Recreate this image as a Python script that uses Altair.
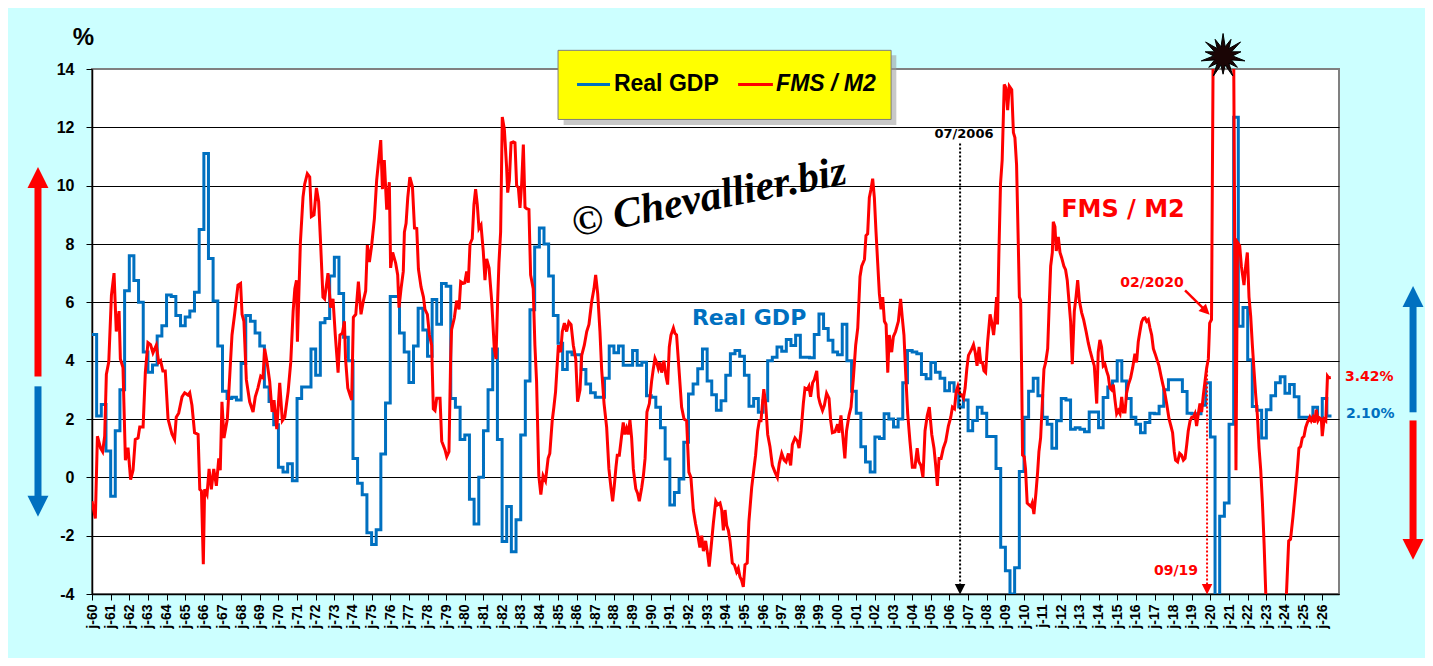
import math

import altair as alt
import pandas as pd

BG = "#ccffff"
BLUE = "#0070c0"
RED = "#ff0000"
TAHOMA = "DejaVu Sans"
ARIAL = "Liberation Sans"

# Real GDP, y/y %, one value per quarter from 1960 Q1 (last entry closes the step)
GDP = [
    4.9, 2.1, 2.5, 0.9,  # 1960
    -0.65, 1.6, 3.0, 6.4,
    7.6, 6.75, 6.0, 4.3,
    3.6, 3.85, 4.85, 5.2,
    6.25, 6.2, 5.55, 5.2,
    5.5, 5.7, 6.35, 8.5,
    11.1, 7.5, 6.05, 4.5,
    2.95, 2.7, 2.75, 2.65,
    3.9, 5.55, 5.35, 4.95,
    4.5, 3.1, 2.6, 1.8,
    0.35, 0.18, 0.47, -0.12,  # 1970
    2.7, 3.1, 3.1, 4.4,
    3.5, 5.3, 5.45, 6.9,
    7.55, 6.3, 4.8, 4.0,
    0.65, -0.2, -0.6, -1.9,
    -2.3, -1.8, 0.8, 2.55,
    6.2, 6.2, 4.95, 4.3,
    3.25, 4.5, 5.8, 5.05,
    4.15, 6.1, 5.25, 6.65,
    6.55, 2.7, 2.4, 1.3,
    1.45, -0.75, -1.6, 0.0,  # 1980
    1.6, 3.0, 4.4, 1.3,
    -2.2, -1.0, -2.55, -1.45,
    1.45, 3.3, 5.75, 7.9,
    8.55, 8.0, 6.9, 5.55,
    4.6, 3.7, 4.3, 4.2,
    4.2, 3.7, 3.2, 2.9,
    2.75, 2.75, 3.4, 4.5,
    4.27, 4.5, 3.84, 3.84,
    4.35, 3.84, 3.95, 2.8,
    2.75, 2.4, 1.7, 0.63,  # 1990
    -0.95, -0.52, -0.06, 1.2,
    2.86, 3.2, 3.72, 4.4,
    3.3, 2.83, 2.3, 2.63,
    3.5, 4.24, 4.35, 4.15,
    3.5, 2.44, 2.7, 2.23,
    2.63, 4.0, 4.12, 4.47,
    4.32, 4.73, 4.52, 4.87,
    4.12, 4.12, 4.1, 4.9,
    5.6, 5.1, 4.7, 4.3,
    4.2, 5.25, 4.0, 2.95,  # 2000
    2.2, 1.05, 0.53, 0.18,
    1.38, 1.33, 2.18, 2.0,
    1.73, 2.0, 3.24, 4.35,
    4.3, 4.24, 3.53, 3.38,
    3.94, 3.6, 3.4, 2.97,
    3.24, 2.95, 2.41, 2.65,
    1.6, 1.95, 2.4, 2.2,
    1.4, 1.4, 0.3, -2.4,
    -3.2, -4.0, -3.1, 0.2,
    2.06, 2.95, 3.4, 2.8,  # 2010
    2.06, 1.82, 1.0, 1.94,
    2.7, 2.65, 1.65, 1.7,
    1.65, 1.56, 2.24, 2.24,
    1.7, 2.74, 3.1, 3.3,
    4.0, 3.3, 2.7, 2.06,
    1.82, 1.53, 1.88, 2.2,
    2.18, 2.44, 3.0, 3.35,
    3.35, 3.35, 2.94, 2.2,
    2.18, 2.18, 2.47, 3.24,
    1.38, -7.5, -1.33, -0.88,  # 2020
    1.82, 12.35, 5.18, 5.82,
    4.03, 2.43, 2.3, 1.35,
    2.32, 2.8, 3.24, 3.45,
    2.88, 3.18, 2.76, 2.06,
    2.06, 2.06, 2.4, 2.0,
    2.7, 2.1, 2.1,
]

# FMS / M2, y/y % as (decimal year, value)
FMS = [
    (1960.00, -0.82), (1960.18, -1.41), (1960.29, 1.41), (1960.46, 1.0), (1960.57, 0.88),
    (1960.68, 1.41), (1960.77, 3.53), (1960.90, 3.96), (1961.04, 6.24), (1961.18, 7.0),
    (1961.30, 5.0), (1961.45, 5.7), (1961.52, 4.06), (1961.66, 3.76), (1961.79, 0.59),
    (1961.93, 1.02), (1962.07, -0.08), (1962.20, 0.24), (1962.32, 1.3), (1962.47, 1.35),
    (1962.56, 1.73), (1962.74, 1.73), (1962.86, 3.6), (1963.00, 4.62), (1963.14, 4.55),
    (1963.27, 4.27), (1963.45, 4.53), (1963.58, 3.94), (1963.68, 4.0), (1963.80, 3.65),
    (1963.93, 3.65), (1964.08, 2.0), (1964.29, 1.49), (1964.43, 1.3), (1964.52, 2.06),
    (1964.65, 2.2), (1964.83, 2.76), (1964.97, 2.9), (1965.15, 2.82), (1965.24, 2.9),
    (1965.36, 2.47), (1965.50, 1.53), (1965.69, 1.47), (1965.78, -0.41), (1965.87, -0.47),
    (1965.97, -2.98), (1966.04, -0.41), (1966.17, -0.59), (1966.28, 0.29), (1966.40, -0.41),
    (1966.53, 0.29), (1966.67, -0.29), (1966.80, 0.65), (1966.88, 0.24), (1966.97, 2.59),
    (1967.08, 1.35), (1967.26, 2.0), (1967.51, 4.88), (1967.65, 5.59), (1967.83, 6.59),
    (1967.97, 6.65), (1968.05, 5.59), (1968.15, 5.35), (1968.28, 3.35), (1968.46, 2.59),
    (1968.64, 2.24), (1968.76, 2.76), (1968.90, 3.06), (1969.05, 3.47), (1969.17, 3.41),
    (1969.26, 4.41), (1969.39, 3.94), (1969.53, 3.29), (1969.66, 2.24), (1969.76, 2.65),
    (1969.91, 1.65), (1970.07, 3.24), (1970.21, 1.94), (1970.34, 2.06), (1970.52, 2.94),
    (1970.66, 3.94), (1970.79, 5.7), (1970.88, 6.47), (1970.97, 6.76), (1971.02, 4.65),
    (1971.18, 8.06), (1971.32, 9.61), (1971.41, 10.06), (1971.55, 10.41), (1971.68, 10.3),
    (1971.77, 8.94), (1971.91, 9.0), (1972.04, 9.92), (1972.16, 9.45), (1972.27, 7.94),
    (1972.39, 6.18), (1972.48, 6.12), (1972.66, 7.0), (1972.80, 5.82), (1972.93, 6.12),
    (1973.05, 4.88), (1973.20, 3.59), (1973.30, 4.88), (1973.43, 4.94), (1973.54, 5.35),
    (1973.60, 4.06), (1973.72, 3.06), (1973.84, 2.82), (1973.93, 2.65), (1974.02, 5.49),
    (1974.15, 5.59), (1974.29, 6.71), (1974.43, 5.59), (1974.56, 6.06), (1974.68, 6.39),
    (1974.77, 7.96), (1974.88, 7.38), (1975.00, 7.94), (1975.15, 8.88), (1975.27, 10.18),
    (1975.40, 11.0), (1975.49, 11.56), (1975.58, 9.88), (1975.68, 10.88), (1975.81, 9.18),
    (1975.95, 10.12), (1976.02, 7.18), (1976.13, 7.71), (1976.29, 7.35), (1976.40, 6.94),
    (1976.47, 5.82), (1976.58, 6.47), (1976.70, 7.06), (1976.76, 8.41), (1976.85, 8.71),
    (1976.94, 9.59), (1977.05, 10.29), (1977.19, 9.96), (1977.30, 8.55), (1977.42, 8.53),
    (1977.51, 7.14), (1977.65, 6.53), (1977.78, 6.18), (1977.86, 5.76), (1977.99, 5.59),
    (1978.10, 4.88), (1978.22, 4.53), (1978.31, 2.35), (1978.40, 2.29), (1978.49, 2.71),
    (1978.67, 2.71), (1978.76, 1.24), (1978.94, 0.94), (1979.03, 0.71), (1979.15, 0.88),
    (1979.24, 4.06), (1979.29, 5.06), (1979.44, 5.47), (1979.56, 6.06), (1979.69, 5.76),
    (1979.78, 6.71), (1979.92, 6.65), (1980.00, 6.67), (1980.10, 7.06), (1980.19, 6.67),
    (1980.28, 8.0), (1980.40, 8.18), (1980.49, 9.35), (1980.58, 9.88), (1980.67, 9.35),
    (1980.76, 8.53), (1980.87, 8.65), (1980.99, 7.76), (1981.08, 6.76), (1981.17, 7.49),
    (1981.30, 7.18), (1981.44, 6.06), (1981.58, 4.41), (1981.67, 4.06), (1981.76, 6.06),
    (1981.83, 7.35), (1981.92, 8.41), (1982.01, 12.35), (1982.12, 11.94), (1982.24, 10.65),
    (1982.30, 9.76), (1982.39, 10.18), (1982.48, 11.47), (1982.60, 11.5), (1982.69, 11.47),
    (1982.78, 10.0), (1982.87, 9.94), (1982.96, 9.24), (1983.05, 10.06), (1983.14, 11.41),
    (1983.23, 9.26), (1983.32, 9.21), (1983.44, 9.18), (1983.53, 6.94), (1983.67, 6.47),
    (1983.76, 4.53), (1983.85, 3.29), (1983.97, 0.06), (1984.08, -0.59), (1984.20, 0.06),
    (1984.33, -0.12), (1984.47, 0.65), (1984.56, 0.82), (1984.69, 1.94), (1984.78, 2.41),
    (1984.87, 2.94), (1985.02, 4.53), (1985.14, 4.29), (1985.23, 5.0), (1985.34, 5.29),
    (1985.46, 5.0), (1985.58, 5.33), (1985.70, 5.24), (1985.82, 4.53), (1985.95, 4.06),
    (1986.05, 2.59), (1986.18, 3.0), (1986.27, 4.18), (1986.41, 4.53), (1986.54, 5.0),
    (1986.66, 5.24), (1986.80, 6.0), (1986.93, 6.47), (1987.02, 6.94), (1987.13, 6.29),
    (1987.25, 5.0), (1987.34, 3.71), (1987.47, 2.53), (1987.61, 1.71), (1987.73, 0.29),
    (1987.84, -0.35), (1987.93, -0.82), (1988.02, -0.29), (1988.11, 0.35), (1988.18, 0.76),
    (1988.29, 0.76), (1988.38, 1.24), (1988.50, 1.88), (1988.59, 1.47), (1988.68, 1.68),
    (1988.77, 1.47), (1988.86, 1.96), (1988.95, 1.35), (1989.04, 0.29), (1989.17, -0.39),
    (1989.27, -0.55), (1989.36, -0.82), (1989.49, -0.35), (1989.58, 0.06), (1989.67, 0.65),
    (1989.77, 2.24), (1989.90, 2.53), (1990.02, 3.29), (1990.11, 3.71), (1990.20, 4.08),
    (1990.29, 3.94), (1990.38, 3.73), (1990.47, 3.94), (1990.56, 3.59), (1990.68, 4.0),
    (1990.79, 3.47), (1990.88, 3.18), (1990.97, 4.47), (1991.06, 4.88), (1991.19, 5.12),
    (1991.27, 4.94), (1991.36, 4.88), (1991.49, 3.71), (1991.63, 2.41), (1991.76, 2.0),
    (1991.90, 1.94), (1992.02, 0.18), (1992.13, 0.0), (1992.26, -1.12), (1992.38, -1.59),
    (1992.49, -1.94), (1992.61, -2.41), (1992.71, -2.0), (1992.80, -2.53), (1992.92, -2.18),
    (1993.03, -2.65), (1993.11, -3.06), (1993.21, -2.41), (1993.33, -1.59), (1993.46, -0.82),
    (1993.56, -0.94), (1993.69, -0.88), (1993.78, -1.12), (1993.87, -1.82), (1993.96, -1.12),
    (1994.05, -1.65), (1994.14, -1.82), (1994.23, -2.18), (1994.35, -2.94), (1994.46, -3.0),
    (1994.58, -3.24), (1994.67, -3.12), (1994.76, -3.41), (1994.85, -3.53), (1994.94, -3.76),
    (1995.03, -3.0), (1995.15, -2.94), (1995.24, -1.53), (1995.39, -0.35), (1995.51, 0.29),
    (1995.60, 0.76), (1995.71, 1.59), (1995.80, 1.94), (1995.89, 1.94), (1995.96, 2.47),
    (1996.04, 3.02), (1996.14, 2.53), (1996.25, 1.47), (1996.37, 1.06), (1996.50, 0.41),
    (1996.64, 0.18), (1996.77, 0.0), (1996.87, 0.47), (1997.00, 0.82), (1997.13, 0.59),
    (1997.23, 0.53), (1997.36, 0.82), (1997.48, 0.41), (1997.57, 1.12), (1997.71, 1.35),
    (1997.84, 1.24), (1997.93, 1.0), (1998.04, 1.59), (1998.16, 2.53), (1998.25, 3.06),
    (1998.38, 3.02), (1998.46, 3.12), (1998.55, 2.76), (1998.66, 3.24), (1998.75, 3.35),
    (1998.88, 3.65), (1998.97, 2.76), (1999.06, 2.53), (1999.19, 2.29), (1999.29, 2.47),
    (1999.41, 2.88), (1999.54, 2.71), (1999.63, 1.94), (1999.72, 1.53), (1999.86, 1.56),
    (2000.00, 1.82), (2000.07, 1.53), (2000.18, 2.12), (2000.29, 1.35), (2000.39, 0.65),
    (2000.48, 1.59), (2000.61, 2.12), (2000.72, 2.41), (2000.84, 3.35), (2000.97, 4.53),
    (2001.08, 5.12), (2001.20, 6.88), (2001.29, 7.24), (2001.44, 7.47), (2001.52, 8.29),
    (2001.61, 8.35), (2001.70, 9.59), (2001.79, 9.88), (2001.88, 10.24), (2001.97, 9.59),
    (2002.06, 8.41), (2002.15, 7.35), (2002.24, 6.29), (2002.33, 5.76), (2002.42, 6.18),
    (2002.51, 5.35), (2002.60, 5.24), (2002.69, 3.59), (2002.77, 4.88), (2002.90, 4.29),
    (2002.99, 4.82), (2003.11, 5.0), (2003.26, 5.35), (2003.38, 6.12), (2003.47, 5.47),
    (2003.56, 4.88), (2003.65, 3.59), (2003.76, 2.18), (2003.88, 1.24), (2004.01, 0.35),
    (2004.15, 0.35), (2004.27, 1.0), (2004.36, 0.53), (2004.47, 0.41), (2004.58, 0.0),
    (2004.69, 1.59), (2004.81, 2.12), (2004.92, 2.41), (2005.05, 1.47), (2005.17, 1.0),
    (2005.26, 0.41), (2005.35, -0.29), (2005.44, 0.65), (2005.55, 0.65), (2005.67, 1.0),
    (2005.80, 1.24), (2005.94, 1.76), (2006.07, 2.06), (2006.16, 2.41), (2006.27, 2.35),
    (2006.36, 2.94), (2006.45, 3.12), (2006.54, 2.88), (2006.66, 2.82), (2006.75, 2.71),
    (2006.84, 3.06), (2006.93, 3.71), (2007.02, 4.18), (2007.16, 4.35), (2007.29, 4.55),
    (2007.38, 4.29), (2007.48, 3.82), (2007.59, 4.47), (2007.68, 3.94), (2007.77, 3.94),
    (2007.85, 3.65), (2007.94, 3.59), (2008.05, 4.65), (2008.18, 5.59), (2008.26, 5.35),
    (2008.37, 4.88), (2008.44, 5.35), (2008.53, 6.18), (2008.58, 5.24), (2008.65, 7.59),
    (2008.74, 10.06), (2008.83, 10.88), (2008.94, 13.47), (2009.03, 13.35), (2009.12, 12.59),
    (2009.21, 13.41), (2009.34, 13.29), (2009.43, 11.82), (2009.51, 11.65), (2009.60, 10.71),
    (2009.69, 8.06), (2009.75, 6.18), (2009.82, 6.06), (2009.87, 3.71), (2009.92, 0.76),
    (2010.01, 0.71), (2010.08, 0.29), (2010.17, -0.88), (2010.26, -0.94), (2010.37, -1.0),
    (2010.44, -0.88), (2010.53, -1.26), (2010.64, -0.53), (2010.73, 0.18), (2010.80, 0.88),
    (2010.89, 1.35), (2010.98, 2.53), (2011.07, 3.71), (2011.16, 3.94), (2011.27, 4.41),
    (2011.34, 5.7), (2011.43, 7.24), (2011.52, 7.71), (2011.57, 8.76), (2011.66, 8.59),
    (2011.73, 7.76), (2011.84, 8.24), (2011.93, 7.71), (2012.02, 7.53), (2012.14, 7.24),
    (2012.23, 7.12), (2012.32, 6.76), (2012.41, 6.06), (2012.50, 5.35), (2012.59, 3.88),
    (2012.70, 5.7), (2012.79, 6.18), (2012.88, 6.76), (2012.97, 6.06), (2013.09, 5.65),
    (2013.20, 5.4), (2013.33, 5.0), (2013.45, 4.6), (2013.54, 4.35), (2013.66, 4.06),
    (2013.77, 3.82), (2013.90, 2.53), (2013.98, 4.29), (2014.07, 4.71), (2014.16, 4.47),
    (2014.25, 3.82), (2014.34, 3.88), (2014.43, 3.65), (2014.52, 3.47), (2014.61, 3.06),
    (2014.70, 3.0), (2014.79, 3.18), (2014.88, 2.65), (2014.97, 2.18), (2015.06, 2.29),
    (2015.15, 2.18), (2015.24, 2.76), (2015.33, 2.24), (2015.42, 2.24), (2015.50, 2.88),
    (2015.60, 3.18), (2015.72, 3.41), (2015.83, 3.76), (2015.95, 4.24), (2016.04, 3.94),
    (2016.13, 4.65), (2016.22, 5.0), (2016.31, 5.33), (2016.40, 5.45), (2016.49, 5.47),
    (2016.58, 5.35), (2016.67, 5.41), (2016.76, 5.12), (2016.85, 4.88), (2016.94, 4.41),
    (2017.03, 4.24), (2017.15, 4.0), (2017.24, 3.82), (2017.35, 3.47), (2017.45, 3.18),
    (2017.54, 2.94), (2017.65, 2.53), (2017.78, 2.0), (2017.88, 1.76), (2017.97, 1.53),
    (2018.06, 0.88), (2018.13, 0.59), (2018.24, 0.53), (2018.35, 0.82), (2018.45, 0.76),
    (2018.55, 0.59), (2018.64, 0.65), (2018.73, 1.12), (2018.81, 1.59), (2018.91, 1.94),
    (2019.00, 2.06), (2019.08, 2.06), (2019.17, 2.18), (2019.26, 1.76), (2019.35, 2.18),
    (2019.44, 2.53), (2019.53, 2.24), (2019.62, 2.82), (2019.71, 3.29), (2019.80, 3.76),
    (2019.89, 4.06), (2019.96, 5.29), (2020.06, 5.41), (2020.20, 20.0), (2020.50, 25.0),
    (2020.85, 26.5), (2021.05, 24.0), (2021.20, 20.0), (2021.37, 0.24), (2021.45, 8.06),
    (2021.57, 7.94), (2021.66, 7.24), (2021.80, 6.59), (2021.89, 7.24), (2021.98, 7.71),
    (2022.07, 6.18), (2022.16, 5.53), (2022.25, 4.53), (2022.34, 3.65), (2022.43, 2.82),
    (2022.52, 2.12), (2022.61, 1.0), (2022.70, 0.24), (2022.79, -0.88), (2022.88, -2.29),
    (2022.97, -4.0), (2023.30, -6.5), (2023.70, -6.5), (2024.08, -4.0), (2024.20, -2.18),
    (2024.30, -2.12), (2024.43, -1.35), (2024.55, -0.53), (2024.66, 0.24), (2024.75, 1.0),
    (2024.84, 1.06), (2024.93, 1.35), (2025.02, 1.41), (2025.11, 1.71), (2025.20, 1.88),
    (2025.33, 2.06), (2025.41, 1.94), (2025.50, 2.06), (2025.59, 1.88), (2025.68, 2.32),
    (2025.77, 1.94), (2025.86, 2.04), (2025.95, 2.0), (2026.00, 1.41), (2026.10, 2.0),
    (2026.19, 1.94), (2026.28, 3.47), (2026.35, 3.41), (2026.46, 3.42),
]


def when(t):
    year = int(math.floor(t))
    return pd.Timestamp(year=year, month=1, day=1) + pd.Timedelta(days=(t - year) * 365.25)


def frame(rows, cols):
    df = pd.DataFrame(rows, columns=cols)
    for c in ("t", "t2"):
        if c in df:
            df[c] = df[c].map(when)
    return df


XS = alt.Scale(domain=[alt.DateTime(year=1960, month=1, date=1),
                       alt.DateTime(year=2026, month=11, date=25)])
YS = alt.Scale(domain=[-4, 14], nice=False, zero=False)

XAX = alt.Axis(
    title=None, grid=False,
    tickCount={"interval": "year", "step": 1},
    labelExpr="'j-' + timeFormat(datum.value, '%y')",
    labelAngle=270, labelFont=ARIAL, labelFontSize=14, labelFontWeight="bold",
    labelColor="black", labelOverlap=False, labelFlush=False, labelPadding=4,
    tickSize=6, tickColor="black", domainColor="black", domainWidth=1.5,
)
YAX = alt.Axis(
    title="%", titleAngle=0, titleFont=ARIAL, titleFontSize=24, titleFontWeight="bold",
    titleColor="black", titleX=-9, titleY=-20, titleAlign="center", titleBaseline="bottom",
    values=list(range(-4, 15, 2)), labelExpr="'' + datum.value",
    labelFont=ARIAL, labelFontSize=16, labelFontWeight="bold", labelColor="black",
    labelPadding=12, tickSize=6, tickColor="black", domainColor="black", domainWidth=1.5,
    gridColor="black", gridWidth=1,
    gridOpacity={"condition": {"test": "datum.value == 14", "value": 0}, "value": 1},
)


def X():
    return alt.X("t:T", scale=XS, axis=XAX)


def Y():
    return alt.Y("v:Q", scale=YS, axis=YAX)


gdp_df = pd.DataFrame({"t": pd.date_range("1960-01-01", periods=len(GDP), freq="QS"), "v": GDP})
fms_df = frame(FMS, ["t", "v"])

gdp_line = alt.Chart(gdp_df).mark_line(
    interpolate="step-after", color=BLUE, strokeWidth=3, clip=True
).encode(x=X(), y=Y())
fms_line = alt.Chart(fms_df).mark_line(color=RED, strokeWidth=3, clip=True).encode(x=X(), y=Y())

# watermark
mark_df = frame([(1993.1, 9.6, "© Chevallier.biz")], ["t", "v", "txt"])
watermark = alt.Chart(mark_df).mark_text(
    font="Liberation Serif", fontStyle="italic", fontWeight="bold", fontSize=42,
    angle=349, color="black",
).encode(x=X(), y=Y(), text="txt:N")

# in-plot labels
labels_df = frame([
    (1995.25, 5.45, "Real GDP", BLUE, 22),
    (2015.31, 9.15, "FMS / M2", RED, 24),
    (2006.78, 11.76, "07/2006", "black", 13),
    (2016.87, 6.65, "02/2020", RED, 14),
    (2018.15, -3.22, "09/19", RED, 14),
], ["t", "v", "txt", "c", "fs"])
labels = alt.Chart(labels_df).mark_text(font=TAHOMA, fontWeight="bold", baseline="middle").encode(
    x=X(), y=Y(), text="txt:N", color=alt.Color("c:N", scale=None),
    size=alt.Size("fs:Q", scale=None),
)
end_df = frame([
    (2027.22, 3.43, "3.42%", RED),
    (2027.27, 2.16, "2.10%", BLUE),
], ["t", "v", "txt", "c"])
end_labels = alt.Chart(end_df).mark_text(
    font=TAHOMA, fontWeight="bold", fontSize=14, align="left", baseline="middle"
).encode(x=X(), y=Y(), text="txt:N", color=alt.Color("c:N", scale=None))

# dotted pointers
dots_df = frame([
    (2006.57, 11.45, -3.72, "black"),
    (2019.82, 3.8, -3.72, RED),
], ["t", "v", "v2", "c"])
dots = alt.Chart(dots_df).mark_rule(strokeWidth=2, strokeDash=[2, 2]).encode(
    x=X(), y=Y(), y2="v2:Q", color=alt.Color("c:N", scale=None)
)
DOWN = "M0,1L1,-1L-1,-1Z"
UP = "M0,-1L1,1L-1,1Z"
tips_df = frame([
    (2006.57, -3.84, "black"),
    (2019.82, -3.84, RED),
], ["t", "v", "c"])
tips = alt.Chart(tips_df).mark_point(shape=DOWN, filled=True, opacity=1, size=110).encode(
    x=X(), y=Y(), color=alt.Color("c:N", scale=None)
)
pointer_df = frame([(2018.64, 6.41, 2019.70, 5.74)], ["t", "v", "t2", "v2"])
pointer = alt.Chart(pointer_df).mark_rule(color=RED, strokeWidth=2.5).encode(
    x=X(), y=Y(), x2="t2:T", y2="v2:Q"
)
pointer_tip = alt.Chart(frame([(2019.76, 5.70)], ["t", "v"])).mark_point(
    shape=DOWN, filled=True, opacity=1, size=110, color=RED, angle=315
).encode(x=X(), y=Y())

# side arrows
shafts_df = frame([
    (1957.10, 3.46, 9.98, RED),
    (1957.10, 3.12, -0.69, BLUE),
    (2030.87, 2.23, 5.90, BLUE),
    (2030.87, 1.95, -2.17, RED),
], ["t", "v", "v2", "c"])
shafts = alt.Chart(shafts_df).mark_rule(strokeWidth=7).encode(
    x=X(), y=Y(), y2="v2:Q", color=alt.Color("c:N", scale=None)
)
heads_up = alt.Chart(frame([(1957.10, 10.28, RED), (2030.87, 6.20, BLUE)], ["t", "v", "c"])).mark_point(
    shape=UP, filled=True, opacity=1, size=440
).encode(x=X(), y=Y(), color=alt.Color("c:N", scale=None))
heads_down = alt.Chart(frame([(1957.10, -0.99, BLUE), (2030.87, -2.47, RED)], ["t", "v", "c"])).mark_point(
    shape=DOWN, filled=True, opacity=1, size=440
).encode(x=X(), y=Y(), color=alt.Color("c:N", scale=None))

# burst on top of the 2020 spike
pts = []
for i in range(28):
    ang = math.pi * i / 14
    r = (1.0 if i % 4 == 0 else 0.82) if i % 2 == 0 else 0.42
    pts.append(f"{r * math.sin(ang):.3f},{-r * math.cos(ang):.3f}")
BURST = "M" + "L".join(pts) + "Z"
burst = alt.Chart(frame([(2020.68, 14.45)], ["t", "v"])).mark_point(
    shape=BURST, filled=True, opacity=1, size=2000, color="#1a0505", stroke="black", strokeWidth=1
).encode(x=X(), y=Y())

# legend box
shadow = alt.Chart(frame([(1985.30, 14.47, 2003.15, 12.08)], ["t", "v", "t2", "v2"])).mark_rect(
    color="#9a9a9a", opacity=0.55
).encode(x=X(), y=Y(), x2="t2:T", y2="v2:Q")
box = alt.Chart(frame([(1985.0, 14.64, 2002.87, 12.27)], ["t", "v", "t2", "v2"])).mark_rect(
    fill="#ffff00", stroke="#7f7f7f", strokeWidth=1
).encode(x=X(), y=Y(), x2="t2:T", y2="v2:Q")
samples_df = frame([
    (1986.02, 13.47, 1987.79, BLUE),
    (1994.66, 13.47, 1996.53, RED),
], ["t", "v", "t2", "c"])
samples = alt.Chart(samples_df).mark_rule(strokeWidth=3).encode(
    x=X(), y=Y(), x2="t2:T", color=alt.Color("c:N", scale=None)
)
leg_gdp = alt.Chart(frame([(1988.0, 13.47, "Real GDP")], ["t", "v", "txt"])).mark_text(
    font=ARIAL, fontSize=23, fontWeight="bold", align="left", baseline="middle", color="black"
).encode(x=X(), y=Y(), text="txt:N")
leg_fms = alt.Chart(frame([(1996.7, 13.47, "FMS / M2")], ["t", "v", "txt"])).mark_text(
    font=ARIAL, fontSize=23, fontWeight="bold", fontStyle="italic", align="left",
    baseline="middle", color="black"
).encode(x=X(), y=Y(), text="txt:N")

chart = alt.layer(
    gdp_line, fms_line, watermark, labels, end_labels, dots, tips, pointer, pointer_tip,
    shafts, heads_up, heads_down, burst, shadow, box, samples, leg_gdp, leg_fms,
).properties(
    width=1247, height=525,
    padding={"left": 84, "top": 61, "right": 86, "bottom": 64},
    autosize=alt.AutoSizeParams(type="none"),
    background=BG,
).configure_view(fill="white", stroke="#808080", strokeWidth=2)

chart.save("out.html", embed_options={"renderer": "svg", "actions": False})
